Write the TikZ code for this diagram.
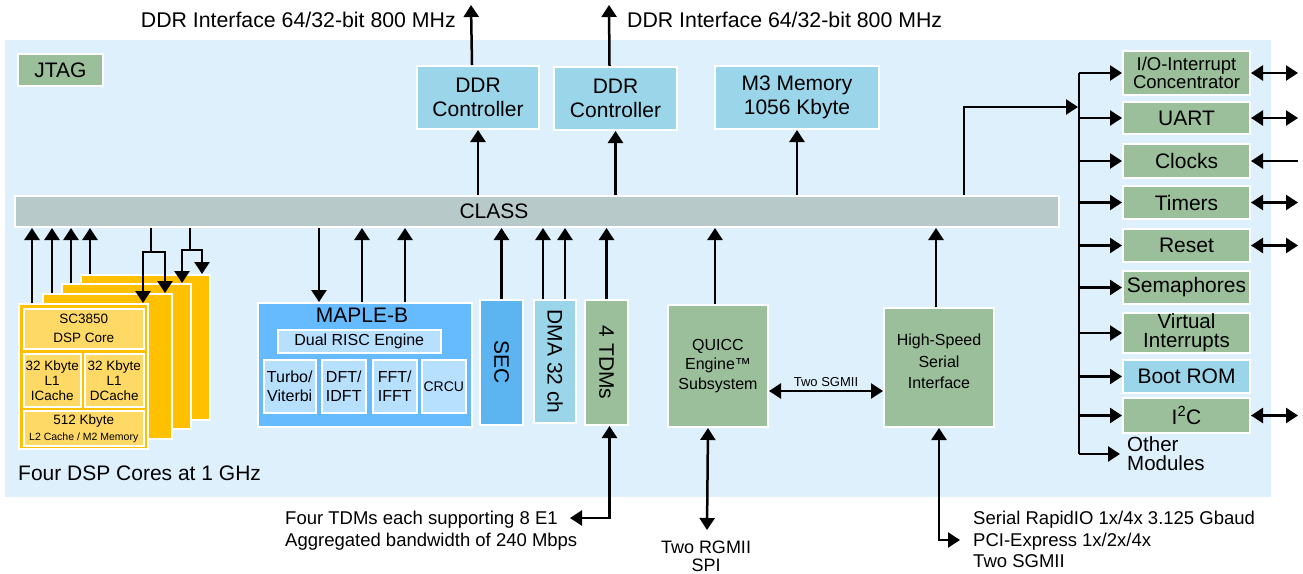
\documentclass[tikz,border=0pt]{standalone}
\usepackage{fontspec}
\setmainfont{Liberation Sans}
\usetikzlibrary{arrows.meta}

\definecolor{bgblue}{RGB}{223,240,253}
\definecolor{classgrey}{RGB}{184,201,201}
\definecolor{modgreen}{RGB}{155,191,155}
\definecolor{ctlblue}{RGB}{155,213,234}
\definecolor{mapleblue}{RGB}{102,187,255}
\definecolor{maplelight}{RGB}{183,224,255}
\definecolor{secblue}{RGB}{92,180,240}
\definecolor{coreorange}{RGB}{255,192,0}
\definecolor{corelight}{RGB}{255,217,102}

\tikzset{
  blk/.style={draw=white, line width=2pt, inner sep=0pt, anchor=north west,
    align=center, font=\fontsize{21}{24}\selectfont},
  cell/.style={blk, fill=corelight, line width=1.5pt, font=\fontsize{13.5}{15}\selectfont},
  sub/.style={blk, fill=maplelight, line width=1.5pt, font=\fontsize{16}{19}\selectfont},
  big/.style={inner sep=0pt, font=\fontsize{21}{24}\selectfont},
  txt/.style={inner sep=0pt, align=left, font=\fontsize{18.5}{21.5}\selectfont},
  wire/.style={line width=2.5pt},
  arr/.style={wire, -{Triangle[width=15pt,length=12pt]}},
  dbl/.style={wire, {Triangle[width=15pt,length=12pt]}-{Triangle[width=15pt,length=12pt]}}
}

\begin{document}
\begin{tikzpicture}[x=1pt,y=-1pt]
\useasboundingbox (0,0) rectangle (1303,573);
\fill[bgblue] (5,40) rectangle (1271,497);

% top row
\node[blk, fill=modgreen, minimum width=85pt, minimum height=32pt] (jtag) at (17,53) {JTAG};
\node[blk, fill=ctlblue, minimum width=122pt, minimum height=63pt] (ddra) at (416,65) {DDR\\Controller};
\node[blk, fill=ctlblue, minimum width=123pt, minimum height=63pt] (ddrb) at (553,66) {DDR\\Controller};
\node[blk, fill=ctlblue, minimum width=164pt, minimum height=63pt] (mthree) at (714,65) {M3 Memory\\1056 Kbyte};
\node[big, anchor=east, font=\fontsize{21.3}{24}\selectfont] (ddratxt) at (456,20) {DDR Interface 64/32-bit 800 MHz};
\node[big, anchor=west, font=\fontsize{21.3}{24}\selectfont] (ddrbtxt) at (627,20) {DDR Interface 64/32-bit 800 MHz};
\coordinate (ddraout) at (471,5);
\coordinate (ddrbout) at (609,5);
\draw[arr] ([xshift=-6pt]ddra.north) -- (ddraout);
\draw[arr] ([xshift=-6pt]ddrb.north) -- (ddrbout);

% bus
\node[blk, fill=classgrey, minimum width=1044pt, minimum height=31pt] (class) at (14,195) {};
\node[big] (classlbl) at (494,211) {CLASS};
\foreach \m in {ddra,ddrb,mthree}
  \draw[arr] (class.north -| \m.south) -- (\m.south);

% DSP cores
\foreach \n/\x/\y in {D/80/274, C/61/283, B/42/293, A/18/303}
  \node[blk, fill=coreorange, minimum width=129pt, minimum height=145pt] (core\n) at (\x,\y) {};
\node[cell, minimum width=120pt, minimum height=40pt, font=\fontsize{13.5}{19}\selectfont] (dsp) at (23,308) {SC3850\\DSP Core};
\node[cell, minimum width=57pt, minimum height=53pt] (icache) at (23,353) {32 Kbyte\\L1\\ICache};
\node[cell, minimum width=59pt, minimum height=53pt] (dcache) at (84,353) {32 Kbyte\\L1\\DCache};
\node[cell, minimum width=120pt, minimum height=35pt, font=\fontsize{13.5}{16}\selectfont] (ltwo) at (23,410) {512 Kbyte\\{\fontsize{10.5}{16}\selectfont L2 Cache / M2 Memory}};
\node[big, anchor=west] (corelbl) at (18,473) {Four DSP Cores at 1 GHz};
\foreach \c/\dx in {A/14,B/10,C/10,D/10} {
  \coordinate (up\c) at ([xshift=\dx pt]core\c.north west);
  \draw[arr] (up\c) -- (up\c |- class.south);
}
\coordinate (jA) at (151,252);
\coordinate (jB) at (190,250);
\draw[wire] (class.south -| jA) -- (jA);
\draw[wire] (class.south -| jB) -- (jB);
\draw[arr] (jA) -| ([xshift=-6pt]coreA.north east);
\draw[arr] (jA) -| ([xshift=-8pt]coreB.north east);
\draw[arr] (jB) -| ([xshift=-10pt]coreC.north east);
\draw[arr] (jB) -| ([xshift=-9pt]coreD.north east);

% MAPLE-B
\node[blk, fill=mapleblue, minimum width=214pt, minimum height=124pt] (maple) at (257,302) {};
\node[big] (maplelbl) at (362,315) {MAPLE-B};
\node[sub, minimum width=163pt, minimum height=23pt] (risc) at (277,329) {Dual RISC Engine};
\node[sub, minimum width=52pt, minimum height=53pt] (turbo) at (263,359) {Turbo/\\Viterbi};
\node[sub, minimum width=44pt, minimum height=53pt] (dft) at (321,359) {DFT/\\IDFT};
\node[sub, minimum width=44pt, minimum height=53pt] (fft) at (372,359) {FFT/\\IFFT};
\node[sub, minimum width=44pt, minimum height=53pt, font=\fontsize{14}{17}\selectfont] (crcu) at (421,359) {CRCU};
\coordinate (mapledn) at ([xshift=-46pt]maple.north);
\coordinate (mapleupa) at ([xshift=-3pt]maple.north);
\coordinate (mapleupb) at ([xshift=40pt]maple.north);
\draw[arr] (class.south -| mapledn) -- (mapledn);
\draw[arr] (mapleupa) -- (mapleupa |- class.south);
\draw[arr] (mapleupb) -- (mapleupb |- class.south);

% SEC, DMA, TDM
\node[blk, fill=secblue, minimum width=43pt, minimum height=125pt] (sec) at (479,299) {};
\node[blk, fill=ctlblue, minimum width=42pt, minimum height=123pt] (dma) at (533,299) {};
\node[blk, fill=modgreen, minimum width=43pt, minimum height=125pt] (tdm) at (584,299) {};
\node[big, rotate=-90] (seclbl) at (sec.center) {SEC};
\node[big, rotate=-90] (dmalbl) at (dma.center) {DMA 32 ch};
\node[big, rotate=-90] (tdmlbl) at (tdm.center) {4 TDMs};
\coordinate (dmaupa) at ([xshift=-12pt]dma.north);
\coordinate (dmaupb) at ([xshift=10pt]dma.north);
\draw[arr] (sec.north) -- (sec.north |- class.south);
\draw[arr] (dmaupa) -- (dmaupa |- class.south);
\draw[arr] (dmaupb) -- (dmaupb |- class.south);
\draw[arr] (tdm.north) -- (tdm.north |- class.south);
\coordinate (tdmio) at (570,518);
\draw[dbl] ([xshift=3pt]tdm.south) |- (tdmio);
\node[txt, anchor=north west] (tdmtxt) at (285,511) {Four TDMs each supporting 8 E1\\Aggregated bandwidth of 240 Mbps};

% QUICC and HSSI
\node[blk, fill=modgreen, minimum width=100pt, minimum height=122pt, font=\fontsize{16}{19.5}\selectfont] (quicc) at (667,304) {QUICC\\Engine™\\Subsystem};
\node[blk, fill=modgreen, minimum width=110pt, minimum height=119pt,
  label={[name=hssilbl, align=center, inner sep=0pt, font=\fontsize{16}{21.5}\selectfont, yshift=6pt]center:High-Speed\\Serial\\Interface}] (hssi) at (883,307) {};
\coordinate (quiccup) at ([xshift=-3pt]quicc.north);
\coordinate (hssiup) at ([xshift=-3pt]hssi.north);
\draw[arr] (quiccup) -- (quiccup |- class.south);
\draw[arr] (hssiup) -- (hssiup |- class.south);
\coordinate (sgmii) at ([yshift=-25pt]quicc.east);
\draw[dbl] (sgmii) -- (sgmii -| hssi.west)
  node[midway, above=3pt, inner sep=0pt, font=\fontsize{13}{15}\selectfont] (sgmiilbl) {Two SGMII};
\coordinate (rgmii) at (707,530);
\draw[dbl] ([xshift=-10pt]quicc.south) -- (rgmii);
\node[txt, anchor=north, align=center, font=\fontsize{18}{18}\selectfont] (rgmiitxt) at (706,541) {Two RGMII\\SPI};
\coordinate (hssiio) at (960,540);
\draw[dbl] (hssi.south) |- (hssiio);
\node[txt, anchor=north west] (hssitxt) at (973,511) {Serial RapidIO 1x/4x 3.125 Gbaud\\PCI-Express 1x/2x/4x\\Two SGMII};

% peripheral modules
\node[blk, fill=modgreen, minimum width=127pt, minimum height=44pt, font=\fontsize{18.5}{18}\selectfont] (io) at (1122,50) {I/O-Interrupt\\Concentrator};
\node[blk, fill=modgreen, minimum width=127pt, minimum height=32pt] (uart) at (1122,101) {UART};
\node[blk, fill=modgreen, minimum width=127pt, minimum height=34pt] (clk) at (1122,143) {Clocks};
\node[blk, fill=modgreen, minimum width=127pt, minimum height=33pt] (tmr) at (1122,185) {Timers};
\node[blk, fill=modgreen, minimum width=127pt, minimum height=33pt] (rst) at (1122,228) {Reset};
\node[blk, fill=modgreen, minimum width=127pt, minimum height=33pt] (sem) at (1122,270) {Semaphores};
\node[blk, fill=modgreen, minimum width=127pt, minimum height=40pt, font=\fontsize{20.5}{19}\selectfont] (virt) at (1122,312) {Virtual\\Interrupts};
\node[blk, fill=ctlblue, minimum width=127pt, minimum height=33pt] (boot) at (1122,359) {Boot ROM};
\node[blk, fill=modgreen, minimum width=127pt, minimum height=35pt] (iic) at (1122,397) {I\textsuperscript{2}C};
\node[big, anchor=west, align=left, inner xsep=7pt, font=\fontsize{20.5}{19}\selectfont] (other) at (1120,454) {Other\\Modules};

\coordinate (busin) at (1079,107);
\coordinate (turn) at (964,107);
\draw[arr] (class.north -| turn) -- (turn) -- ([xshift=-1pt]busin);
\draw[wire] (busin |- io.west) -- (busin |- other.west);
\foreach \m in {io,uart,clk,tmr,rst,sem,virt,boot,iic,other}
  \draw[arr] (busin |- \m.west) -- (\m.west);
\foreach \m in {io,uart,tmr,rst,iic} {
  \coordinate (\m-out) at ([xshift=47pt]\m.east);
  \draw[dbl] (\m.east) -- (\m-out);
}
\coordinate (clk-in) at ([xshift=47pt]clk.east);
\draw[arr] (clk-in) -- (clk.east);
\end{tikzpicture}
\end{document}
